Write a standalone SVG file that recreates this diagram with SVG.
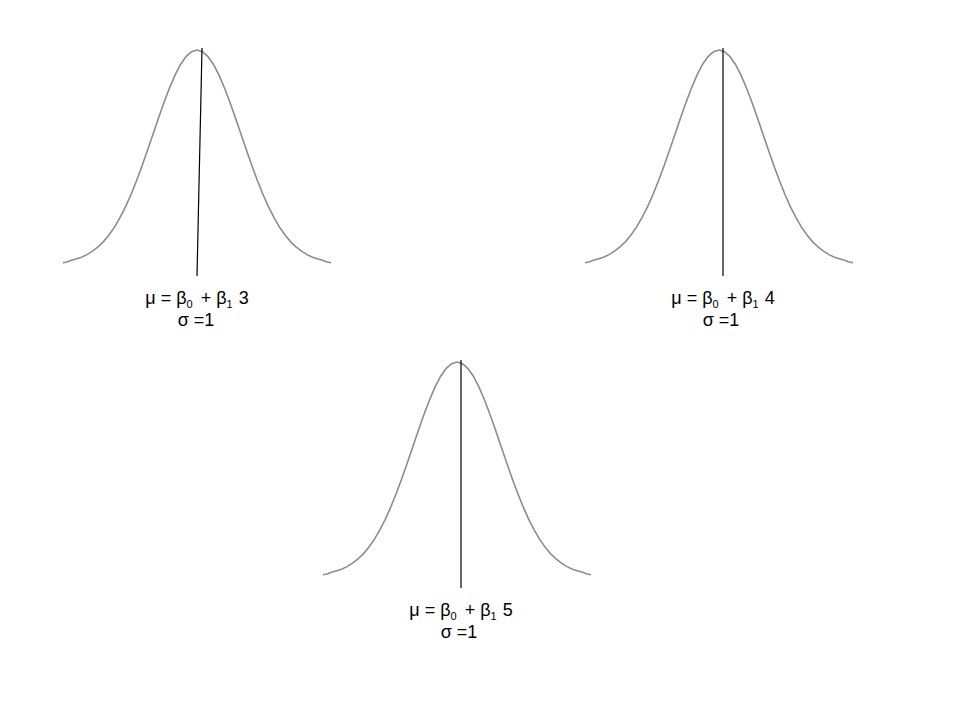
<svg xmlns="http://www.w3.org/2000/svg" xmlns:xlink="http://www.w3.org/1999/xlink" width="960" height="720" viewBox="0 0 960 720">
<style>
.curve{fill:none;stroke:#8c8c8c;stroke-width:1.6}
.mean{stroke:#000;stroke-width:1.2}
.lbl{font-size:18px;fill:#000;text-anchor:middle}
.sub{font-size:11px}
</style>
<defs>
<path id="bell" d="M-134,-1.2 L-129,-2.3 L-126.5,-3.4 L-121,-4.9 L-115.5,-6.8 L-110,-9.4 L-104.5,-12.8 L-99,-17 L-93.5,-22.4 L-88,-29 L-82.5,-36.9 L-77,-46.3 L-71.5,-57.2 L-66,-69.5 L-60.5,-83.2 L-55,-98 L-49.5,-113.7 L-44,-129.8 L-38.5,-145.9 L-33,-161.5 L-27.5,-176 L-22,-188.9 L-16.5,-199.5 L-11,-207.4 L-5.5,-212.3 L0,-214 L5.5,-212.3 L11,-207.4 L16.5,-199.5 L22,-188.9 L27.5,-176 L33,-161.5 L38.5,-145.9 L44,-129.8 L49.5,-113.7 L55,-98 L60.5,-83.2 L66,-69.5 L71.5,-57.2 L77,-46.3 L82.5,-36.9 L88,-29 L93.5,-22.4 L99,-17 L104.5,-12.8 L110,-9.4 L115.5,-6.8 L121,-4.9 L126.5,-3.4 L129,-2.3 L134,-1.2"/>
</defs>
<g id="dist1" font-family="'Liberation Sans', Arial, sans-serif">
<use xlink:href="#bell" class="curve" transform="translate(197,264)"/>
<text class="lbl" x="197" y="304">μ = β<tspan class="sub" dy="4">0</tspan><tspan dy="-4" dx="3"> + β</tspan><tspan class="sub" dy="4">1</tspan><tspan dy="-4" dx="1"> 3</tspan></text>
<text class="lbl" x="196" y="326">σ =1</text>
</g>
<g id="dist2" font-family="'Liberation Sans', Arial, sans-serif">
<use xlink:href="#bell" class="curve" transform="translate(719,264)"/>
<text class="lbl" x="723" y="304">μ = β<tspan class="sub" dy="4">0</tspan><tspan dy="-4" dx="3"> + β</tspan><tspan class="sub" dy="4">1</tspan><tspan dy="-4" dx="1"> 4</tspan></text>
<text class="lbl" x="721" y="326">σ =1</text>
</g>
<g id="dist3" font-family="'Liberation Sans', Arial, sans-serif">
<use xlink:href="#bell" class="curve" transform="translate(457,576)"/>
<text class="lbl" x="461" y="616">μ = β<tspan class="sub" dy="4">0</tspan><tspan dy="-4" dx="3"> + β</tspan><tspan class="sub" dy="4">1</tspan><tspan dy="-4" dx="1"> 5</tspan></text>
<text class="lbl" x="459" y="638">σ =1</text>
</g>
<g id="connectors">
<line class="mean" x1="202" y1="48" x2="197" y2="276"/>
<line class="mean" x1="723" y1="48" x2="723" y2="276"/>
<line class="mean" x1="461" y1="360" x2="461" y2="588"/>
</g>
</svg>
